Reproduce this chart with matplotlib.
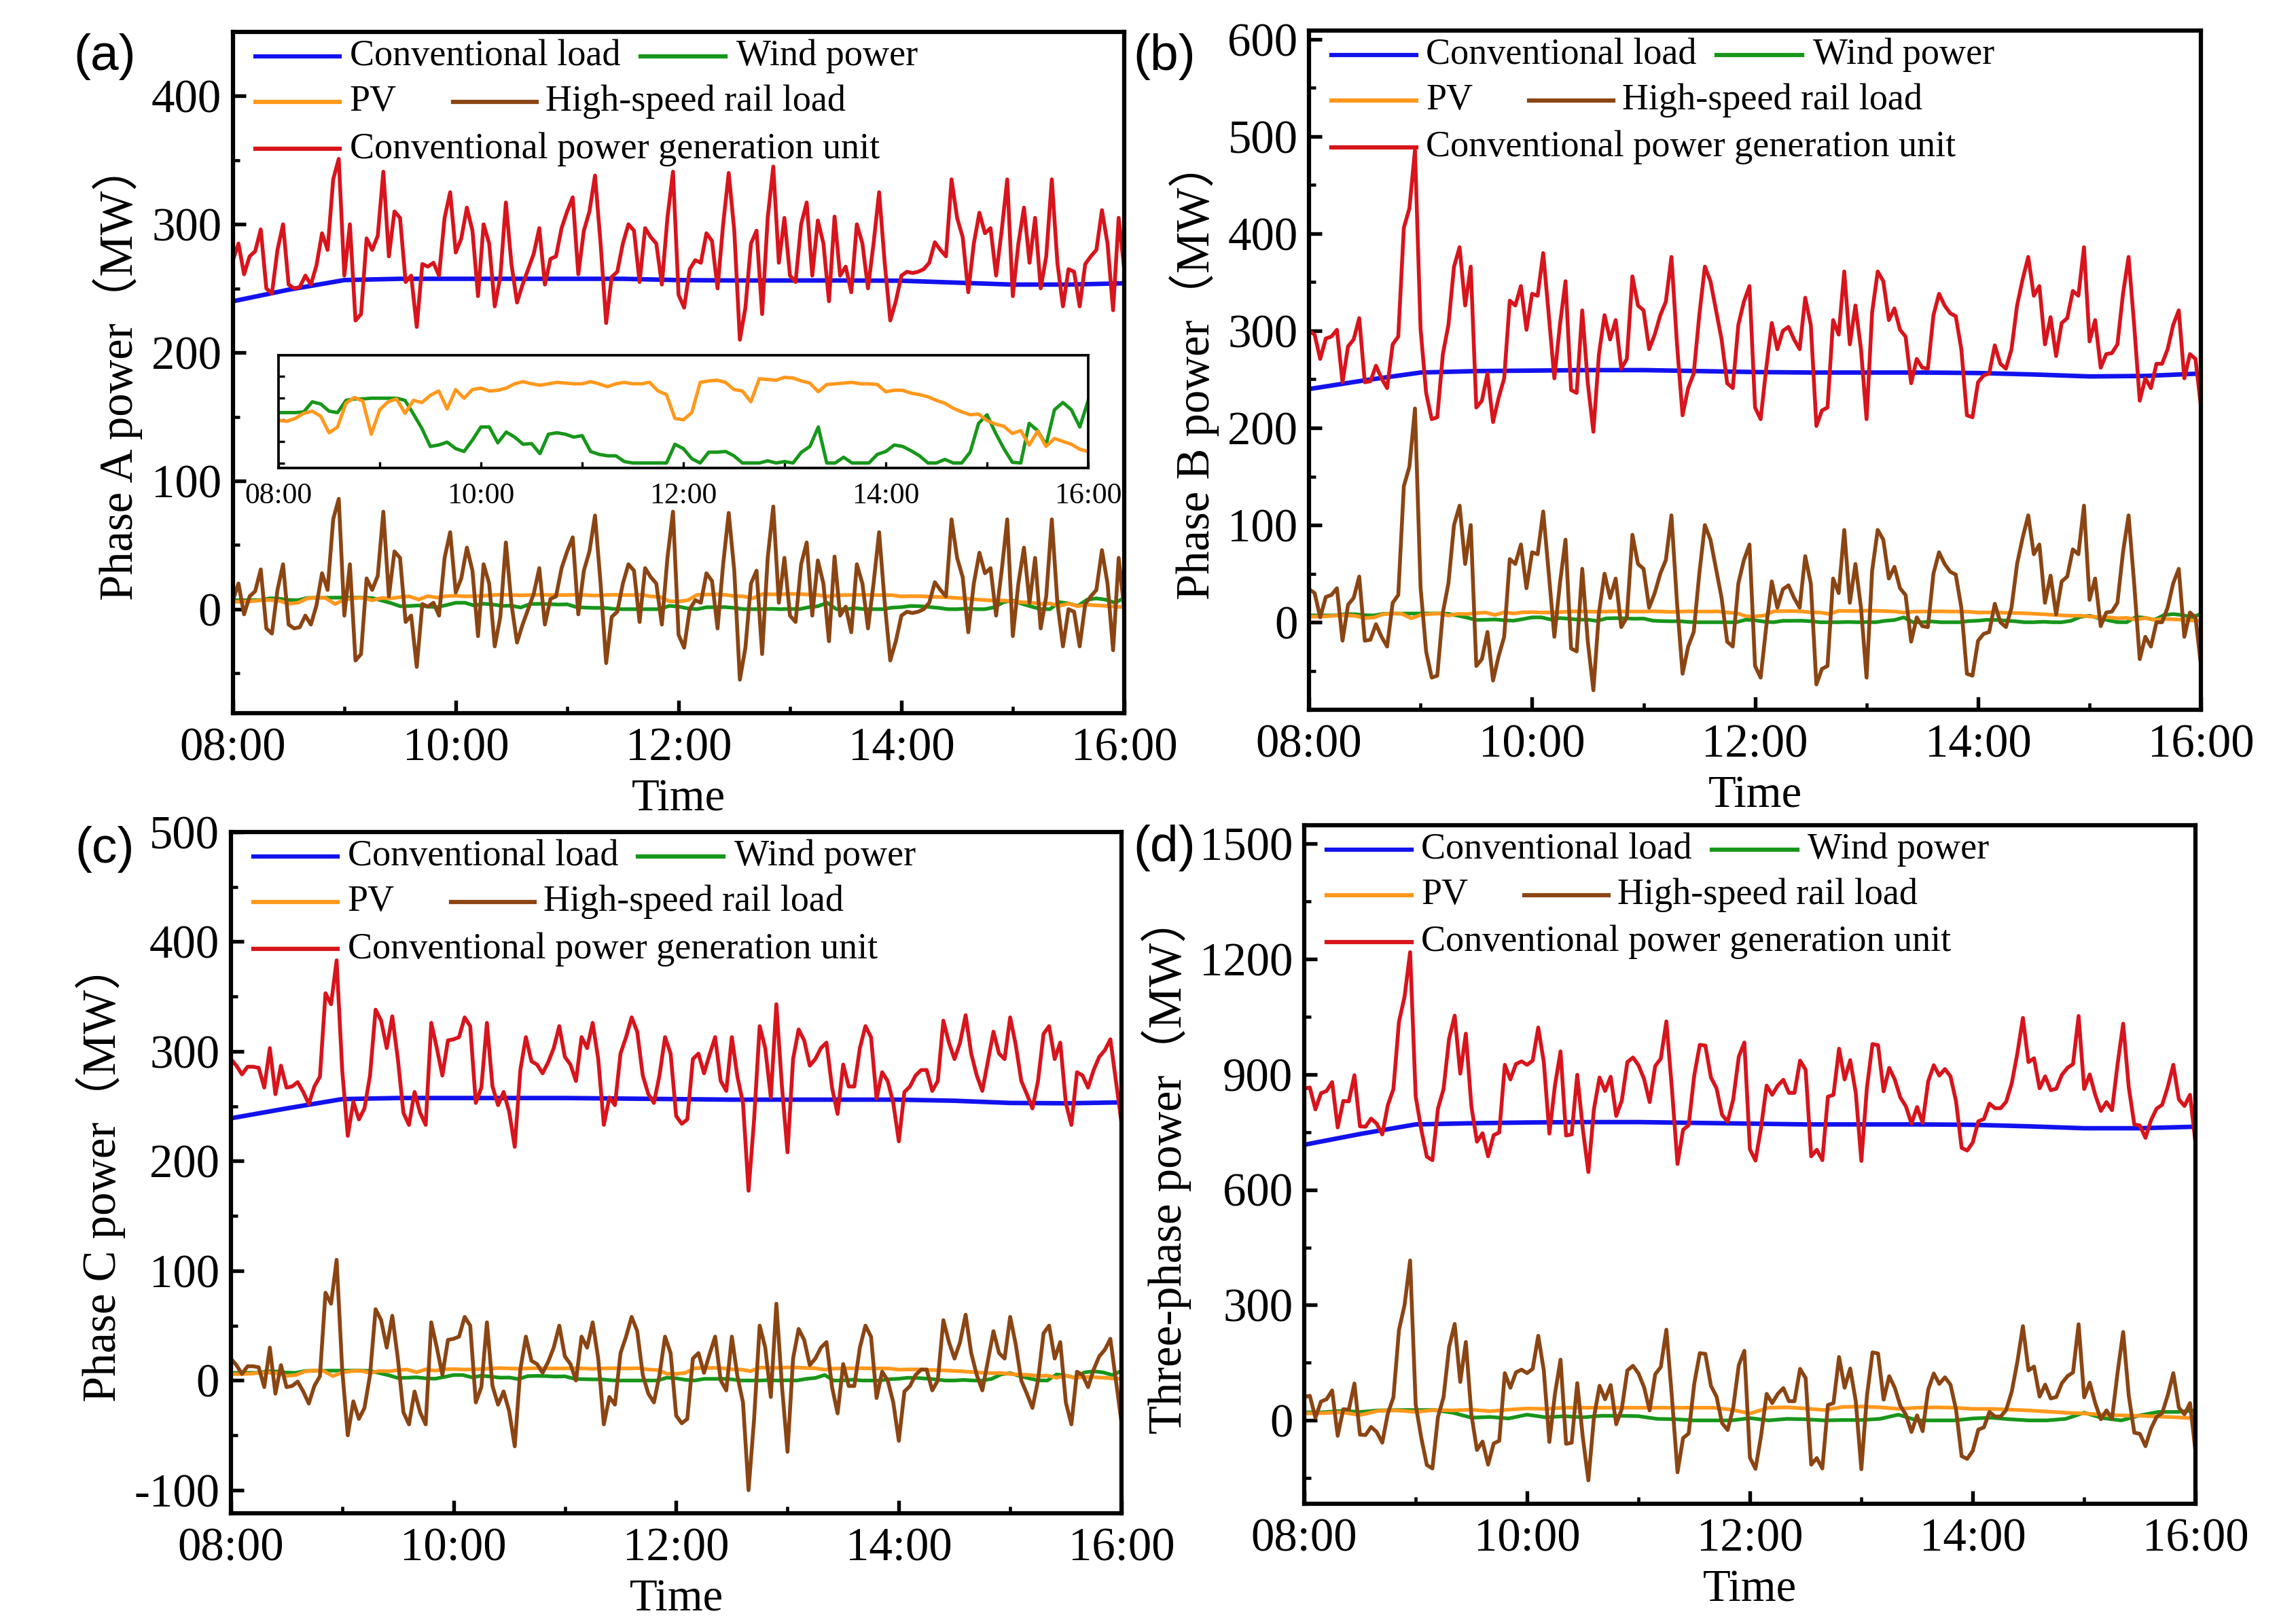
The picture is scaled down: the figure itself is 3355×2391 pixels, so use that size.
import numpy as np
import matplotlib
matplotlib.use("Agg")
import matplotlib.pyplot as plt
from matplotlib.ticker import MultipleLocator, FixedLocator, FuncFormatter, NullFormatter

plt.rcParams['font.family'] = ['Liberation Serif', 'Noto Sans CJK SC', 'DejaVu Sans']
plt.rcParams['axes.unicode_minus'] = False

# ----------------------------
# data, sample steps in minutes after 08:00
# ----------------------------
STEP_FAST = 3    # high-speed rail / conventional generation
STEP_RES = 5     # wind / PV, per phase
STEP_RES3 = 10   # wind / PV, three-phase
STEP_LOAD = 30   # conventional load

load_a = [240, 249, 256.5, 257.5, 257.5, 257.5, 257.5, 257.5, 256.5, 256.2, 256.2, 256.2, 256, 254.5, 253, 253, 254]
load_b = [240, 249, 257, 258.5, 259, 259.5, 259.5, 258.5, 257.5, 257, 257, 257, 256.5, 255, 253, 253.5, 256]
load_c = [239, 248, 256.5, 257.5, 257.5, 257.5, 257.5, 257, 256.5, 256, 256, 256, 256, 255, 253, 252.7, 253.5]
load_d = [717, 745, 770, 773, 775, 776, 776, 774, 772, 770, 770, 770, 769, 765, 760, 760, 764]

# per-phase wind / PV (same in phases A, B, C; also shown in the inset)
pv_phase = [5.9, 5.8, 6.2, 6.9, 7.2, 6.5, 4.2, 5.0, 8.3, 9.1,
            8.6, 4.0, 7.4, 8.5, 8.9, 6.9, 8.7, 8.4, 9.4, 10.0,
            7.5, 10.2, 9.0, 10.2, 10.4, 10.0, 10.1, 10.4, 11.0, 11.3,
            11.0, 10.8, 11.0, 11.2, 11.1, 11.0, 11.0, 11.3, 11.0, 10.6,
            11.0, 11.2, 11.0, 11.0, 11.2, 10.0, 9.5, 6.2, 6.0, 7.0,
            11.2, 11.4, 11.5, 11.2, 10.2, 10.0, 8.5, 11.7, 11.6, 11.5,
            11.9, 11.8, 11.4, 11.1, 9.9, 10.9, 11.0, 11.1, 11.2, 11.0,
            11.0, 10.9, 9.9, 10.1, 10.1, 9.7, 9.5, 9.2, 8.7, 8.3,
            7.6, 7.1, 6.7, 6.8, 5.9, 5.4, 5.1, 4.1, 4.5, 2.5,
            4.4, 2.3, 3.4, 3.0, 2.6, 1.9, 1.6]
wind_phase = [7.0, 7.0, 7.0, 7.1, 8.5, 8.2, 7.2, 7.0, 8.7, 8.9,
              8.9, 9.0, 9.0, 9.0, 9.0, 8.7, 6.8, 4.8, 2.3, 2.5,
              2.9, 2.0, 1.6, 3.2, 5.0, 5.0, 2.8, 4.3, 3.6, 2.6,
              2.7, 1.3, 4.0, 4.2, 4.0, 3.6, 3.8, 1.6, 1.2, 1.0,
              1.0, 0.2, 0.0, 0.0, 0.0, 0.0, 0.0, 2.6, 2.0, 0.6,
              0.0, 1.5, 1.5, 1.6, 1.0, 0.0, 0.0, 0.0, 0.3, 0.0,
              0.2, 0.0, 1.5, 2.3, 5.0, 0.0, 0.0, 0.8, 0.0, 0.0,
              0.0, 1.2, 1.6, 2.5, 2.3, 1.7, 1.0, 0.0, 0.0, 0.5,
              0.0, 0.0, 1.5, 5.5, 6.7, 4.2, 2.0, 0.1, 0.0, 5.5,
              4.5, 2.5, 7.4, 8.4, 7.4, 5.0, 8.7]
pv_three = [18, 19, 21, 14, 25, 26, 22, 27, 26, 28, 24, 28, 31, 30, 33, 33, 33, 33, 33, 33,
            33, 33, 33, 28, 18, 33, 34, 31, 27, 35, 36, 34, 30, 33, 34, 33, 30, 30, 28, 26,
            23, 20, 18, 15, 13, 12, 10, 8, 5]
wind_three = [21, 21, 25, 22, 26, 27, 27, 27, 20, 7, 9, 5, 15, 8, 11, 8, 12, 12, 11, 4,
              3, 0, 0, 0, 6, 0, 4, 3, 0, 1, 1, 4, 15, 0, 0, 0, 5, 7, 3, 0,
              0, 4, 20, 6, 0, 13, 22, 22, 26]

hsr_a = [7, 20, -4, 10, 14, 31, -15, -19, 15, 35,
         -12, -15, -14, -5, -12, 3, 28, 15, 70, 86,
         -5, 35, -40, -35, 24, 15, 26, 76, 10, 45,
         40, -10, -5, -45, 4, 2, 5, -5, 40, 60,
         13, 24, 48, 30, -21, 35, 20, -29, -6, 52,
         4, -26, -12, 0, 12, 32, -12, 8, 10, 32,
         45, 56, -4, 30, 45, 73, 20, -42, -6, -2,
         20, 35, 30, -10, 32, 25, 20, -12, 40, 76,
         -20, -30, 0, 7, 5, 28, 22, -15, 35, 75,
         30, -55, -30, 20, 30, -35, 40, 80, 5, 40,
         -5, -10, 35, 52, -5, 38, 20, -25, 41, -5,
         2, -18, 35, 20, -15, 20, 60, 5, -40, -25,
         -5, -2, -3, -2, 0, 5, 21, 15, 10, 70,
         40, 25, -18, 20, 44, 28, 32, -5, 30, 70,
         -21, 20, 48, 5, 40, -15, 10, 70, 5, -29,
         0, -2, -29, 4, 10, 15, 46, 20, -32, 40,
         0]
gen_a = [272, 285, 261, 275, 279, 296, 250, 246, 280, 300,
         253, 250, 251, 260, 253, 268, 293, 280, 335, 351,
         260, 300, 225, 230, 289, 280, 291, 341, 275, 310,
         305, 255, 260, 220, 269, 267, 270, 260, 305, 325,
         278, 289, 313, 295, 244, 300, 285, 236, 259, 317,
         269, 239, 253, 265, 277, 297, 253, 273, 275, 297,
         310, 321, 261, 295, 310, 338, 285, 223, 259, 263,
         285, 300, 295, 255, 297, 290, 285, 253, 305, 341,
         245, 235, 265, 272, 270, 293, 287, 250, 300, 340,
         295, 210, 235, 285, 295, 230, 305, 345, 270, 305,
         260, 255, 300, 317, 260, 303, 285, 240, 306, 260,
         267, 247, 300, 285, 250, 285, 325, 270, 225, 240,
         260, 263, 262, 263, 265, 270, 286, 280, 275, 335,
         305, 290, 247, 285, 309, 293, 297, 260, 295, 335,
         244, 285, 313, 270, 305, 250, 275, 335, 270, 236,
         265, 263, 236, 269, 275, 280, 311, 285, 233, 305,
         265]

hsr_b = [34, 30, 5, 26, 28, 35, -19, 18, 25, 47,
         -19, -18, -2, -15, -25, 20, 28, 140, 160, 220,
         36, -30, -57, -55, 10, 40, 100, 120, 60, 100,
         -45, -38, -10, -60, -35, -15, 65, 60, 80, 35,
         72, 70, 114, 50, -15, 40, 85, -27, -30, 55,
         -20, -70, 10, 50, 25, 45, -5, 5, 90, 60,
         55, 15, 30, 50, 64, 110, 20, -53, -25, -10,
         50, 100, 85, 55, 25, -20, -25, 40, 64, 80,
         -45, -57, -5, 42, 15, 34, 38, 25, 15, 68,
         40, -64, -48, -45, 45, 30, 95, 20, 60, 15,
         -57, 53, 95, 85, 45, 57, 35, 28, -20, 5,
         -4, -5, 50, 72, 60, 52, 49, 15, -53, -55,
         -19, -12, -10, 19, 0, -5, 15, 60, 87, 110,
         70, 80, 20, 48, 8, 42, 47, 75, 70, 120,
         23, 45, -4, 10, 11, 20, 72, 110, 40, -38,
         -15, -25, 0, 0, 15, 40, 55, -15, 10, 5,
         -45]
gen_b = [300, 296, 271, 292, 294, 301, 247, 284, 291, 313,
         247, 248, 264, 251, 241, 286, 294, 406, 426, 486,
         302, 236, 209, 211, 276, 306, 366, 386, 326, 366,
         221, 228, 256, 206, 231, 251, 331, 326, 346, 301,
         338, 336, 380, 316, 251, 306, 351, 239, 236, 321,
         246, 196, 276, 316, 291, 311, 261, 271, 356, 326,
         321, 281, 296, 316, 330, 376, 286, 213, 241, 256,
         316, 366, 351, 321, 291, 246, 241, 306, 330, 346,
         221, 209, 261, 308, 281, 300, 304, 291, 281, 334,
         306, 202, 218, 221, 311, 296, 361, 286, 326, 281,
         209, 319, 361, 351, 311, 323, 301, 294, 246, 271,
         262, 261, 316, 338, 326, 318, 315, 281, 213, 211,
         247, 254, 256, 285, 266, 261, 281, 326, 353, 376,
         336, 346, 286, 314, 274, 308, 313, 341, 336, 386,
         289, 311, 262, 276, 277, 286, 338, 376, 306, 228,
         251, 241, 266, 266, 281, 306, 321, 251, 276, 271,
         221]

hsr_c = [20, 14, 6, 13, 13, 12, -6, 30, -12, 14,
         -6, -5, -1, -10, -21, -5, 4, 80, 70, 110,
         10, -50, -19, -35, -25, 5, 65, 55, 30, 59,
         20, -29, -40, -10, -29, -40, 53, 30, 5, 37,
         38, 40, 58, 50, -20, -6, 53, -5, -22, -10,
         -28, -60, 10, 40, 18, 15, 7, 17, 30, 50,
         22, 15, 0, 40, 30, 53, 20, -40, -15, -22,
         25, 40, 58, 45, 5, -12, -20, 5, 40, 25,
         -32, -39, -35, 20, 25, 7, 24, 40, 0, -9,
         40, 4, -20, -100, -35, 50, 30, -15, 70, -5,
         -65, 20, 47, 37, 14, 20, 30, 35, -6, -30,
         15, -5, -5, 30, 50, 40, -16, 8, 0, -20,
         -55, -10, -5, 5, 10, 10, -9, 0, 55, 35,
         20, 35, 60, 25, 5, -9, 18, 45, 25, 20,
         58, 33, 0, -12, -25, 0, 43, 50, 20, 35,
         -20, -40, 8, 5, -6, 10, 22, 28, 38, 0,
         -38]
gen_c = [293, 287, 279, 286, 286, 285, 267, 303, 261, 287,
         267, 268, 272, 263, 252, 268, 277, 353, 343, 383,
         283, 223, 254, 238, 248, 278, 338, 328, 303, 332,
         293, 244, 233, 263, 244, 233, 326, 303, 278, 310,
         311, 313, 331, 323, 253, 267, 326, 268, 251, 263,
         245, 213, 283, 313, 291, 288, 280, 290, 303, 323,
         295, 288, 273, 313, 303, 326, 293, 233, 258, 251,
         298, 313, 331, 318, 278, 261, 253, 278, 313, 298,
         241, 234, 238, 293, 298, 280, 297, 313, 273, 264,
         313, 277, 253, 173, 238, 323, 303, 258, 343, 268,
         208, 293, 320, 310, 287, 293, 303, 308, 267, 243,
         288, 268, 268, 303, 323, 313, 257, 281, 273, 253,
         218, 263, 268, 278, 283, 283, 264, 273, 328, 308,
         293, 308, 333, 298, 278, 264, 291, 318, 298, 293,
         331, 306, 273, 261, 248, 273, 316, 323, 293, 308,
         253, 233, 281, 278, 267, 283, 295, 301, 311, 273,
         235]

hsr_d = [61, 64, 7, 49, 55, 78, -40, 29, 28, 96,
         -37, -38, -17, -30, -58, 18, 60, 235, 300, 416,
         41, -45, -116, -125, 9, 60, 191, 251, 100, 204,
         15, -77, -55, -115, -60, -53, 123, 85, 125, 132,
         123, 134, 220, 130, -56, 69, 158, -61, -58, 97,
         -44, -156, 8, 90, 55, 92, -10, 30, 130, 142,
         122, 86, 26, 120, 139, 236, 60, -135, -46, -34,
         95, 175, 173, 90, 62, -7, -25, 33, 144, 181,
         -97, -126, -40, 69, 45, 69, 84, 50, 50, 134,
         110, -115, -98, -125, 40, 45, 165, 85, 135, 50,
         -127, 63, 177, 174, 54, 115, 85, 38, 15, -30,
         13, -28, 80, 122, 95, 112, 93, 28, -93, -100,
         -79, -24, -18, 22, 10, 10, 27, 75, 152, 245,
         130, 140, 62, 93, 57, 61, 97, 115, 125, 250,
         60, 98, 44, 3, 26, 5, 125, 230, 65, -32,
         -35, -67, -21, 9, 19, 65, 123, 33, 16, 45,
         -83]
gen_d = [863, 866, 809, 851, 857, 880, 762, 831, 830, 898,
         765, 764, 785, 772, 744, 820, 862, 1037, 1102, 1218,
         843, 757, 686, 677, 811, 862, 993, 1053, 902, 1006,
         817, 725, 747, 687, 742, 749, 925, 887, 927, 934,
         925, 936, 1022, 932, 746, 871, 960, 741, 744, 899,
         758, 646, 810, 892, 857, 894, 792, 832, 932, 944,
         924, 888, 828, 922, 941, 1038, 862, 667, 756, 768,
         897, 977, 975, 892, 864, 795, 777, 835, 946, 983,
         705, 676, 762, 871, 847, 871, 886, 852, 852, 936,
         912, 687, 704, 677, 842, 847, 967, 887, 937, 852,
         675, 865, 979, 976, 856, 917, 887, 840, 817, 772,
         815, 774, 882, 924, 897, 914, 895, 830, 709, 702,
         723, 778, 784, 824, 812, 812, 829, 877, 954, 1047,
         932, 942, 864, 895, 859, 863, 899, 917, 927, 1052,
         862, 900, 846, 805, 828, 807, 927, 1032, 867, 770,
         767, 735, 781, 811, 821, 867, 925, 835, 818, 847,
         719]

C_LOAD = "#1212ee"
C_WIND = "#17961b"
C_PV = "#ff981c"
C_HSR = "#8b4513"
C_GEN = "#d8141c"


def hours(values, step):
    # sample index -> clock hour (08:00 start)
    return 8 + np.arange(len(values)) * step / 60.0


def hhmm(x, pos):
    return f"{int(round(x)):02d}:00"


def draw_legend(ax):
    # Origin-style free layout: two rows of pairs, then the long entry
    items = [
        (0.025, 0.120, 0.131, 0.964, C_LOAD, "Conventional load"),
        (0.457, 0.553, 0.565, 0.964, C_WIND, "Wind power"),
        (0.025, 0.120, 0.131, 0.897, C_PV, "PV"),
        (0.247, 0.341, 0.351, 0.897, C_HSR, "High-speed rail load"),
        (0.025, 0.120, 0.131, 0.828, C_GEN, "Conventional power generation unit"),
    ]
    for x0, x1, xt, y, c, name in items:
        ax.plot([x0, x1], [y, y], color=c, lw=1.5, transform=ax.transAxes, clip_on=False)
        ax.text(xt, y, name, transform=ax.transAxes, ha="left", va="center", fontsize=13)


def draw_panel(ax, load, wind, pv, hsr, gen, res_step, ylim, ymaj, ylabel):
    ax.plot(hours(load, STEP_LOAD), load, color=C_LOAD, lw=1.6)
    ax.plot(hours(wind, res_step), wind, color=C_WIND, lw=1.3)
    ax.plot(hours(pv, res_step), pv, color=C_PV, lw=1.3)
    ax.plot(hours(hsr, STEP_FAST), hsr, color=C_HSR, lw=1.35)
    ax.plot(hours(gen, STEP_FAST), gen, color=C_GEN, lw=1.35)

    ax.set_xlim(8, 16)
    ax.set_ylim(*ylim)
    ax.xaxis.set_major_locator(FixedLocator([8, 10, 12, 14, 16]))
    ax.xaxis.set_minor_locator(FixedLocator([9, 11, 13, 15]))
    ax.xaxis.set_major_formatter(FuncFormatter(hhmm))
    ax.yaxis.set_major_locator(MultipleLocator(ymaj))
    ax.yaxis.set_minor_locator(MultipleLocator(ymaj / 2))
    ax.tick_params(which="both", direction="in", top=False, right=False, labelsize=16.5)
    ax.tick_params(which="major", length=4.5, width=1.3)
    ax.tick_params(which="minor", length=2.5, width=1.1)
    ax.tick_params(axis="x", pad=5)
    ax.tick_params(axis="y", pad=4)
    for s in ax.spines.values():
        s.set_linewidth(1.5)
    ax.set_xlabel("Time", fontsize=16, labelpad=3)
    ax.set_ylabel(ylabel, fontsize=16.5, labelpad=3)
    draw_legend(ax)


fig = plt.figure(figsize=(3355 / 300, 2391 / 300), dpi=300)

ax_a = fig.add_axes([0.1022, 0.5609, 0.3911, 0.4195])
ax_b = fig.add_axes([0.5744, 0.5630, 0.3914, 0.4182])
ax_c = fig.add_axes([0.1013, 0.0682, 0.3908, 0.4195])
ax_d = fig.add_axes([0.5723, 0.0740, 0.3911, 0.4178])

draw_panel(ax_a, load_a, wind_phase, pv_phase, hsr_a, gen_a, STEP_RES, (-81, 450), 100, "Phase A power（MW）")
draw_panel(ax_b, load_b, wind_phase, pv_phase, hsr_b, gen_b, STEP_RES, (-90, 609), 100, "Phase B power（MW）")
draw_panel(ax_c, load_c, wind_phase, pv_phase, hsr_c, gen_c, STEP_RES, (-121, 500), 100, "Phase C power（MW）")
draw_panel(ax_d, load_d, wind_three, pv_three, hsr_d, gen_d, STEP_RES3, (-217, 1548), 300, "Three-phase power（MW）")

# inset of panel (a): zoom on wind and PV
ax_in = fig.add_axes([0.1222, 0.7118, 0.3553, 0.0696])
ax_in.plot(hours(wind_phase, STEP_RES), wind_phase, color=C_WIND, lw=1.2)
ax_in.plot(hours(pv_phase, STEP_RES), pv_phase, color=C_PV, lw=1.2)
ax_in.set_xlim(8, 16)
ax_in.set_ylim(-0.7, 15)
ax_in.xaxis.set_major_locator(FixedLocator([8, 10, 12, 14, 16]))
ax_in.xaxis.set_minor_locator(FixedLocator([9, 11, 13, 15]))
ax_in.xaxis.set_major_formatter(FuncFormatter(hhmm))
ax_in.yaxis.set_major_locator(FixedLocator([0, 3, 6, 9, 12]))
ax_in.yaxis.set_major_formatter(NullFormatter())
ax_in.tick_params(which="both", direction="in", top=False, right=False, length=2.2, width=0.8)
ax_in.tick_params(axis="x", labelsize=10.5, pad=5)
for s in ax_in.spines.values():
    s.set_linewidth(0.9)

for x, y, lab in [(0.046, 0.965, "(a)"), (0.511, 0.965, "(b)"),
                  (0.046, 0.477, "(c)"), (0.511, 0.478, "(d)")]:
    fig.text(x, y, lab, fontsize=18, family=["Liberation Sans", "DejaVu Sans"],
             ha="center", va="center")

fig.savefig("out.png", dpi=300)
